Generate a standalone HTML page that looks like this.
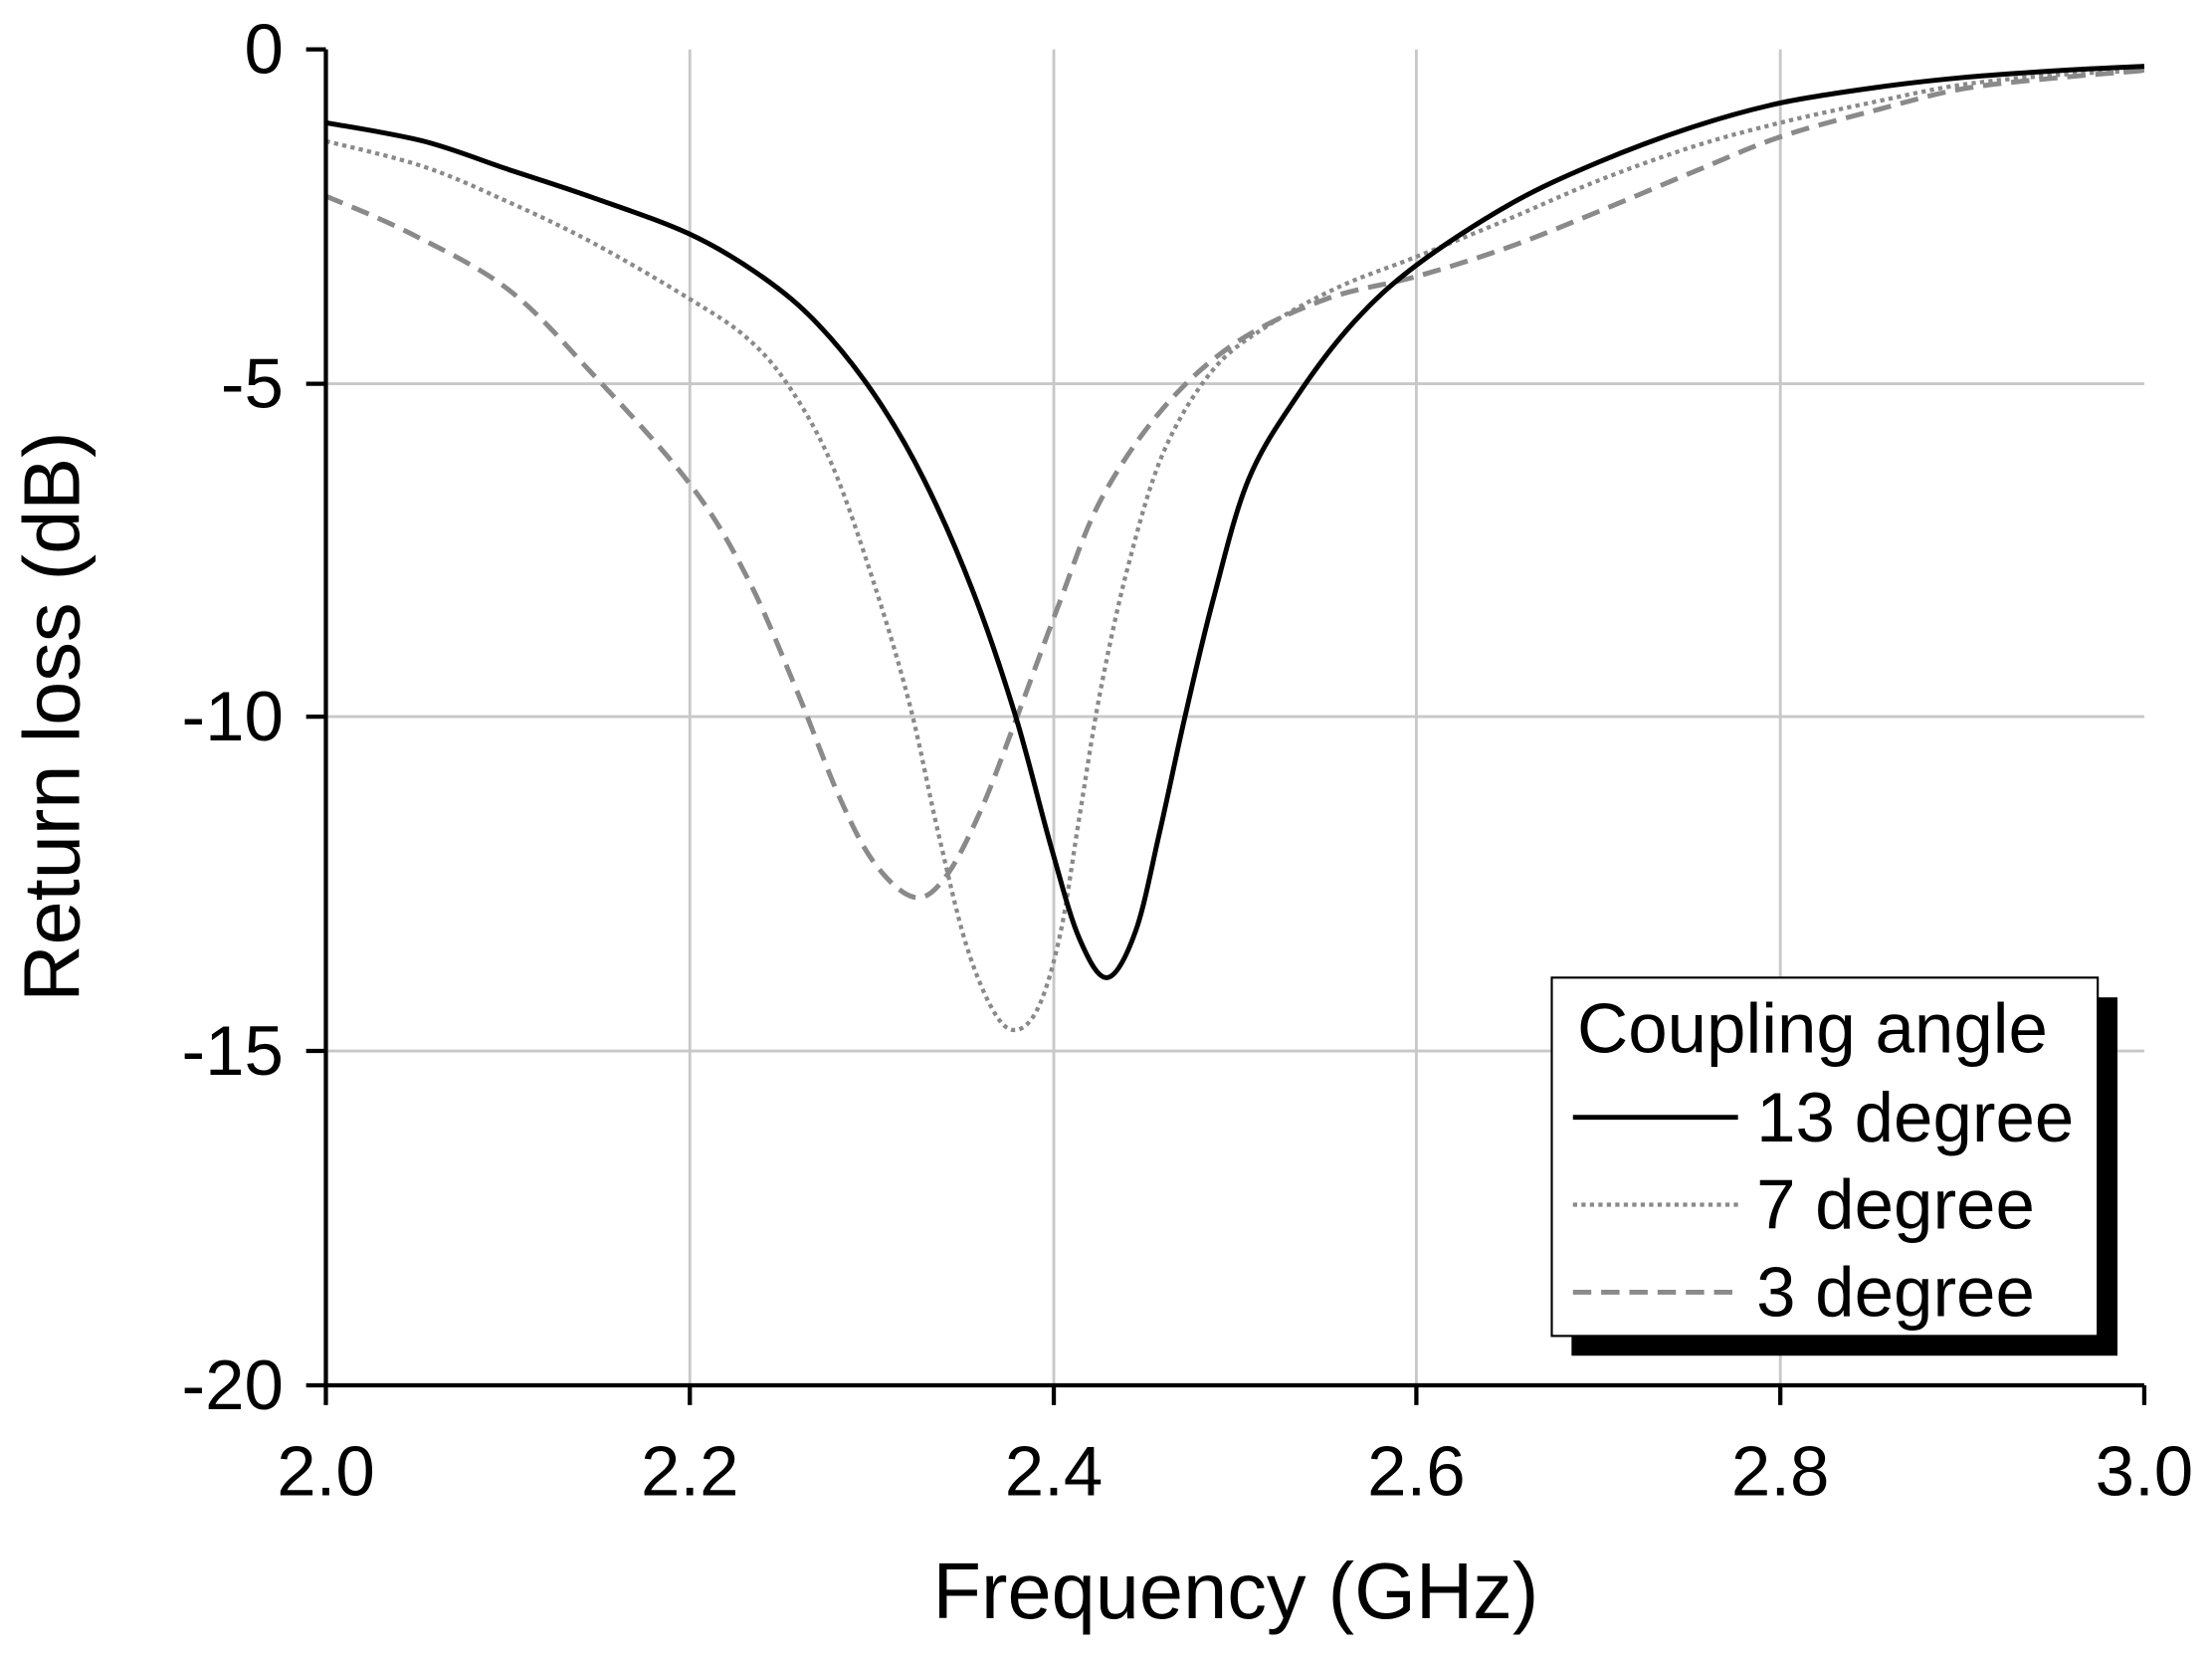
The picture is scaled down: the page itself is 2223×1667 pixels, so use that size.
<!DOCTYPE html>
<html><head><meta charset="utf-8"><style>
html,body{margin:0;padding:0;background:#fff;}
svg{display:block;}
text{font-family:"Liberation Sans",sans-serif;fill:#000;}
</style></head><body>
<svg id="s" width="2223" height="1667" viewBox="0 0 1568 1176" preserveAspectRatio="none">
<rect x="0" y="0" width="1568" height="1176" fill="#fff"/>
<g stroke="#c8c8c8" stroke-width="2">
<line x1="489" y1="35" x2="489" y2="982"/><line x1="747" y1="35" x2="747" y2="982"/>
<line x1="1004" y1="35" x2="1004" y2="982"/><line x1="1262" y1="35" x2="1262" y2="982"/>
<line x1="231" y1="272" x2="1520" y2="272"/><line x1="231" y1="508" x2="1520" y2="508"/>
<line x1="231" y1="745" x2="1520" y2="745"/>
</g>
<path id="p3" fill="none" stroke="#8a8a8a" stroke-width="3.5" stroke-dasharray="13,7"/>
<path id="p7" fill="none" stroke="#8a8a8a" stroke-width="3" stroke-dasharray="3,3"/>
<path id="p13" fill="none" stroke="#000" stroke-width="3.5"/>
<g stroke="#000" stroke-width="3" fill="none">
<line x1="231" y1="35" x2="231" y2="982"/><line x1="231" y1="982" x2="1520" y2="982"/>
<line x1="217" y1="35" x2="231" y2="35"/><line x1="217" y1="272" x2="231" y2="272"/>
<line x1="217" y1="508" x2="231" y2="508"/><line x1="217" y1="745" x2="231" y2="745"/>
<line x1="217" y1="982" x2="231" y2="982"/>
<line x1="231" y1="982" x2="231" y2="996"/><line x1="489" y1="982" x2="489" y2="996"/>
<line x1="747" y1="982" x2="747" y2="996"/><line x1="1004" y1="982" x2="1004" y2="996"/>
<line x1="1262" y1="982" x2="1262" y2="996"/><line x1="1520" y1="982" x2="1520" y2="996"/>
</g>
<g font-size="50" text-anchor="end">
<text x="201" y="52">0</text><text x="201" y="289">-5</text><text x="201" y="525">-10</text>
<text x="201" y="762">-15</text><text x="201" y="999">-20</text>
</g>
<g font-size="50" text-anchor="middle">
<text x="231" y="1060">2.0</text><text x="489" y="1060">2.2</text><text x="747" y="1060">2.4</text>
<text x="1004" y="1060">2.6</text><text x="1262" y="1060">2.8</text><text x="1520" y="1060">3.0</text>
</g>
<text x="876" y="1147" font-size="56" text-anchor="middle">Frequency (GHz)</text>
<text transform="translate(56,508) rotate(-90)" font-size="56" text-anchor="middle">Return loss (dB)</text>
<rect x="1114" y="707" width="387" height="254" fill="#000"/>
<rect x="1100" y="693" width="387" height="254" fill="#fff" stroke="#000" stroke-width="1.5"/>
<text x="1118" y="746" font-size="50">Coupling angle</text>
<line x1="1115" y1="792" x2="1232" y2="792" stroke="#000" stroke-width="3.5"/>
<line x1="1115" y1="854" x2="1232" y2="854" stroke="#8a8a8a" stroke-width="3" stroke-dasharray="3,3"/>
<line x1="1115" y1="916" x2="1232" y2="916" stroke="#8a8a8a" stroke-width="3.5" stroke-dasharray="13,7"/>
<text x="1245" y="809" font-size="50">13 degree</text>
<text x="1245" y="871" font-size="50">7 degree</text>
<text x="1245" y="933" font-size="50">3 degree</text>
</svg>
<script>
function cr(p){var d="M"+p[0][0]+","+p[0][1];for(var i=0;i<p.length-1;i++){var a=p[i-1]||p[i],b=p[i],c=p[i+1],e=p[i+2]||c;
d+=" C"+(b[0]+(c[0]-a[0])/6)+","+(b[1]+(c[1]-a[1])/6)+" "+(c[0]-(e[0]-b[0])/6)+","+(c[1]-(e[1]-b[1])/6)+" "+c[0]+","+c[1];}return d;}
var s13=[[231,87],[300,100],[360,120],[420,140],[489,166],[540,196],[580,230],[620,280],[655,340],[690,420],[720,508],[745,600],[765,665],[785,693],[805,660],[822,590],[840,508],[860,425],[885,340],[920,280],[960,228],[1004,188],[1070,145],[1133,115],[1200,90],[1262,73],[1330,62],[1391,55],[1460,50],[1520,47]];
var s7=[[231,100],[300,118],[360,143],[420,172],[489,212],[530,240],[560,275],[590,330],[620,415],[645,500],[665,590],[685,670],[705,718],[721,730],[737,712],[752,660],[765,580],[780,490],[800,400],[825,320],[860,262],[900,230],[950,203],[1004,182],[1070,155],[1133,128],[1200,104],[1262,87],[1330,72],[1391,60],[1460,53],[1520,50]];
var s3=[[231,139],[290,165],[360,205],[420,265],[489,343],[530,410],[565,490],[595,565],[620,612],[648,636],[670,622],[695,575],[721,508],[750,430],[780,355],[824,290],[876,243],[940,212],[1004,196],[1070,175],[1133,150],[1200,122],[1262,97],[1330,78],[1391,63],[1460,55],[1520,50]];
document.getElementById("p13").setAttribute("d",cr(s13));
document.getElementById("p7").setAttribute("d",cr(s7));
document.getElementById("p3").setAttribute("d",cr(s3));
</script>
</body></html>
